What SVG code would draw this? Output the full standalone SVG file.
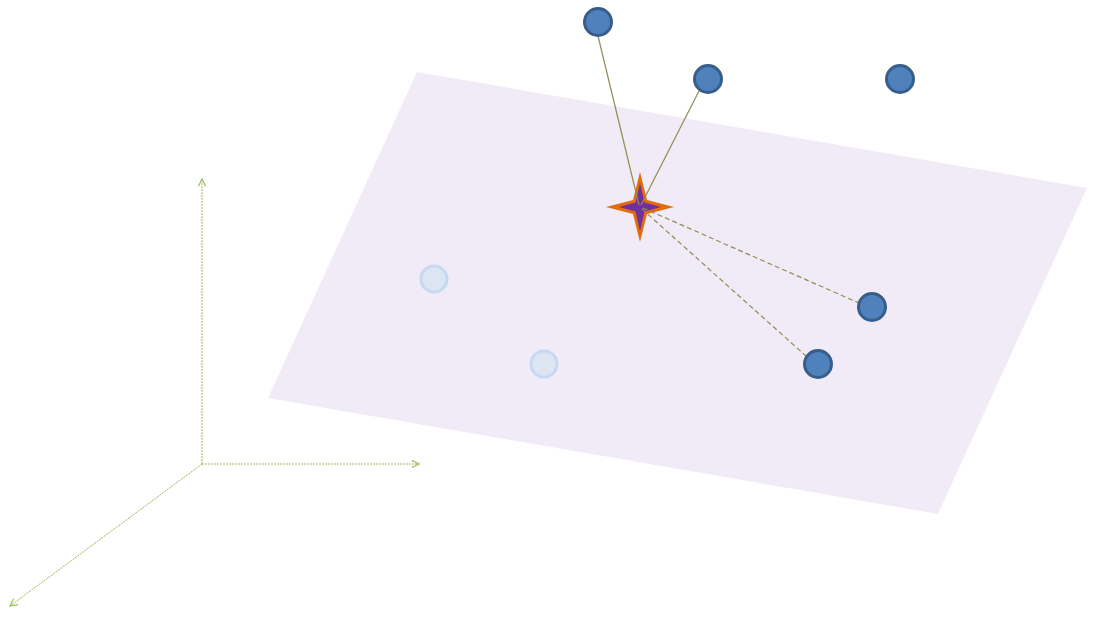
<svg xmlns="http://www.w3.org/2000/svg" width="1096" height="617" viewBox="0 0 1096 617">
<style>
.axis{stroke:#9bbb59;stroke-width:1;stroke-dasharray:2 1;fill:none}
.link{stroke:#948a54;stroke-width:1.2;fill:none}
.dash{stroke-dasharray:5 3}
.pt{fill:#4f81bd;stroke:#385d8a;stroke-width:3}
.ghost{fill:#dce6f2;stroke:#c6d9f1;stroke-width:3}
</style>
<defs>
<marker id="arr" viewBox="0 0 10 10" refX="9" refY="5" markerWidth="9" markerHeight="9" markerUnits="userSpaceOnUse" orient="auto">
<path d="M1,1 L9,5 L1,9" fill="none" stroke="#9bbb59" stroke-width="1.3"/>
</marker>
</defs>
<rect width="1096" height="617" fill="#ffffff"/>
<g id="plane"><polygon points="417,72 1087,188 938,514 268,398" fill="#f1ebf7"/></g>
<g id="axes">
<line class="axis" x1="202" y1="464" x2="202" y2="179" marker-end="url(#arr)"/>
<line class="axis" x1="202" y1="464" x2="419" y2="464" marker-end="url(#arr)"/>
<line class="axis" x1="202" y1="464" x2="10" y2="606" marker-end="url(#arr)"/>
</g>
<g id="ghost1"><circle class="ghost" cx="434" cy="279" r="13"/></g>
<g id="ghost2"><circle class="ghost" cx="544" cy="364" r="13"/></g>
<g id="star">
<polygon points="640,172 647,200 674,207 647,214 640,242 633,214 606,207 633,200" fill="#e46c0a"/>
<polygon points="640,183 644.5,202.5 661,207 644.5,211.5 640,231 635.5,211.5 619,207 635.5,202.5" fill="#7030a0"/>
</g>
<g id="connectors">
<line class="link" x1="598" y1="36" x2="639" y2="205"/>
<line class="link" x1="699" y1="91" x2="641" y2="205"/>
<line class="link dash" x1="643" y1="208" x2="859" y2="303"/>
<line class="link dash" x1="642" y1="209" x2="806" y2="356"/>
</g>
<g id="n1"><circle class="pt" cx="598" cy="22" r="13.5"/></g>
<g id="n2"><circle class="pt" cx="708" cy="79" r="13.5"/></g>
<g id="n3"><circle class="pt" cx="900" cy="79" r="13.5"/></g>
<g id="n4"><circle class="pt" cx="872" cy="307" r="13.5"/></g>
<g id="n5"><circle class="pt" cx="818" cy="364" r="13.5"/></g>
</svg>
